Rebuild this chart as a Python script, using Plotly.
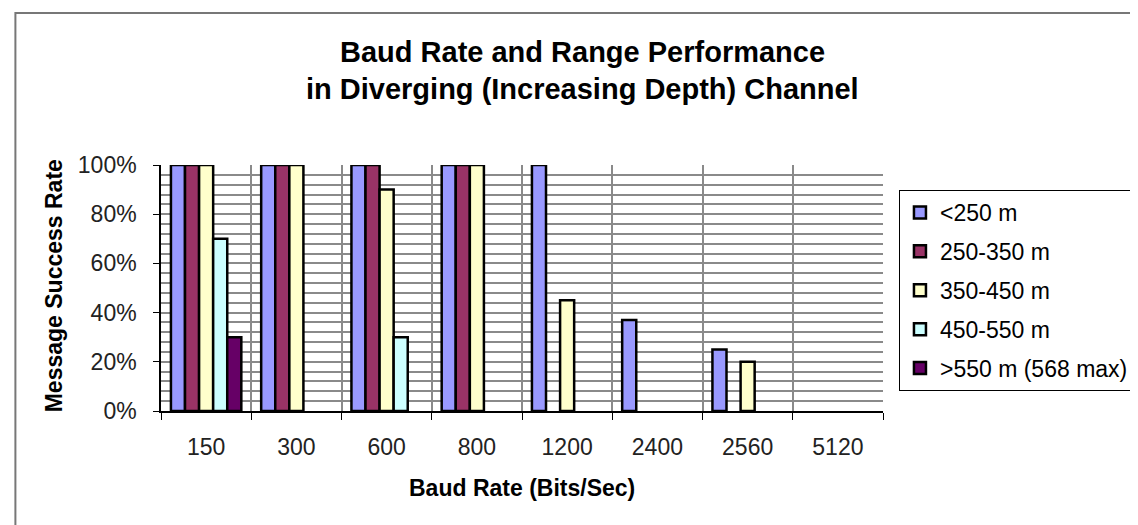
import plotly.graph_objects as go

baud_rates = ["150", "300", "600", "800", "1200", "2400", "2560", "5120"]
series_names = ["<250 m", "250-350 m", "350-450 m", "450-550 m", ">550 m (568 max)"]
range_lt250 = [1.00, 1.00, 1.00, 1.00, 1.00, 0.37, 0.25, None]
range_250_350 = [1.00, 1.00, 1.00, 1.00, None, None, None, None]
range_350_450 = [1.00, 1.00, 0.90, 1.00, 0.45, None, 0.20, None]
range_450_550 = [0.70, None, 0.30, None, None, None, None, None]
range_gt550 = [0.30, None, None, None, None, None, None, None]
series_values = [range_lt250, range_250_350, range_350_450, range_450_550, range_gt550]
colors = ["#9999FF", "#993366", "#FFFFCC", "#CCFFFF", "#660066"]

FONT = "Liberation Sans, Arial, sans-serif"
W, H = 1138, 525
L, R, T, B = 153, 261, 157, 122
pw, ph = W - L - R, H - T - B

def px(x):
    return (x - L) / pw

def py(y):
    return (H - B - y) / ph

fig = go.Figure()
for i, (name, vals, col) in enumerate(zip(series_names, series_values, colors)):
    fig.add_trace(go.Bar(
        x=baud_rates, y=vals, name=name, legendgroup=f"g{i}",
        marker=dict(color=col, line=dict(color="black", width=2.5)),
    ))

fig.update_layout(
    width=W, height=H,
    margin=dict(l=L, r=R, t=T, b=B),
    paper_bgcolor="white", plot_bgcolor="white",
    font=dict(family=FONT, size=23, color="black"),
    barmode="group", bargap=0.22, bargroupgap=0,
    showlegend=True,
    legend=dict(
        x=px(893), y=py(182), xanchor="left", yanchor="top",
        bordercolor="black", borderwidth=1, bgcolor="white",
        font=dict(family=FONT, size=23, color="black"),
        tracegroupgap=6, traceorder="grouped",
    ),
    xaxis=dict(
        type="category", tickson="boundaries", showgrid=True,
        gridcolor="#8a8a8a", gridwidth=2,
        showline=True, linecolor="black", linewidth=1.5,
        ticks="outside", ticklen=7, tickcolor="black",
        ticklabelstandoff=15,
        tickfont=dict(size=23, color="#222"),
    ),
    yaxis=dict(
        range=[0, 1], tickvals=[0, 0.2, 0.4, 0.6, 0.8, 1.0],
        tickformat=".0%", showgrid=True, gridcolor="#8a8a8a", gridwidth=1.5,
        minor=dict(dtick=0.04, showgrid=True, gridcolor="#8a8a8a", gridwidth=1.5),
        showline=True, linecolor="black", linewidth=1.5,
        ticks="outside", ticklen=6, tickcolor="black",
        ticklabelstandoff=12, zeroline=False,
        tickfont=dict(size=23, color="#222"),
    ),
    annotations=[
        dict(text="<b>Baud Rate and Range Performance</b>", xref="paper", yref="paper",
             x=px(576), y=py(44), xanchor="center", yanchor="middle", showarrow=False,
             font=dict(family=FONT, size=29, color="black")),
        dict(text="<b>in Diverging (Increasing Depth) Channel</b>", xref="paper", yref="paper",
             x=px(576), y=py(81), xanchor="center", yanchor="middle", showarrow=False,
             font=dict(family=FONT, size=29, color="black")),
        dict(text="<b>Message Success Rate</b>", xref="paper", yref="paper",
             x=px(46), y=py(278), xanchor="center", yanchor="middle", showarrow=False,
             textangle=-90, font=dict(family=FONT, size=23, color="black")),
        dict(text="<b>Baud Rate (Bits/Sec)</b>", xref="paper", yref="paper",
             x=px(515), y=py(480), xanchor="center", yanchor="middle", showarrow=False,
             font=dict(family=FONT, size=23, color="black")),
    ],
    shapes=[
        dict(type="rect", xref="paper", yref="paper",
             x0=px(7), x1=px(1145), y0=py(535), y1=py(5),
             line=dict(color="#777777", width=2), fillcolor="rgba(0,0,0,0)", layer="below"),
    ],
)

fig.write_html("out.html")
